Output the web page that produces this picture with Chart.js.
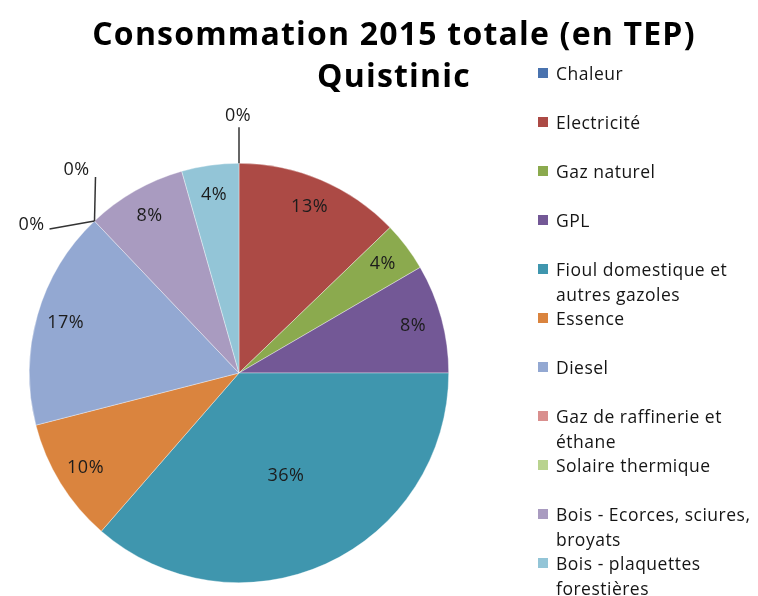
<!DOCTYPE html>
<html>
<head>
<meta charset="utf-8">
<script src="https://cdn.jsdelivr.net/npm/chart.js@4.4.1/dist/chart.umd.min.js"></script>
<style>
  body { margin: 0; background: #fff; }
  #wrap { position: relative; width: 758px; height: 596px; overflow: hidden; }
  #chart { position: absolute; left: 0; top: 0; }
  #title {
    position: absolute; left: 0; top: 12px; width: 788px;
    text-align: center; font-family: "Open Sans", sans-serif; font-weight: bold;
    font-size: 32px; line-height: 42px; color: #000; letter-spacing: 1.2px;
  }
  #legend { position: absolute; left: 538px; top: 61px; font-family: "Open Sans", sans-serif;
    font-size: 17.5px; color: #151515; letter-spacing: 0.5px; }
  .item { position: relative; height: 49px; line-height: 24.5px; padding-left: 18px; white-space: nowrap; }
  .box { position: absolute; left: 0; top: 7px; width: 10px; height: 10px; }
</style>
</head>
<body>
<div id="wrap">
  <canvas id="chart" width="758" height="596"></canvas>
  <div id="title">Consommation 2015 totale (en TEP)<br>Quistinic</div>
  <div id="legend"></div>
</div>
<script>
// energy types, each as the lines shown in the legend
const categories = [
    ['Chaleur'],
    ['Electricité'],
    ['Gaz naturel'],
    ['GPL'],
    ['Fioul domestique et', 'autres gazoles'],
    ['Essence'],
    ['Diesel'],
    ['Gaz de raffinerie et', 'éthane'],
    ['Solaire thermique'],
    ['Bois - Ecorces, sciures,', 'broyats'],
    ['Bois - plaquettes', 'forestières']
];
// share of 2015 consumption, in %
const shares = [0, 12.8, 3.8, 8.4, 36.4, 9.6, 16.9, 0, 0, 7.7, 4.4];
const colors = ['#4a73af', '#ac4a45', '#8baa4e', '#735896', '#3f96ae', '#da843e',
    '#93a8d2', '#d98f8e', '#b9d38f', '#a99bc0', '#93c5d7'];

// where the "0%" labels of empty slices go, relative to the slice edge
const leaderOffsets = {
    0: { line: [0, -36], text: [-1, -47] },
    7: { line: [-45, 8], text: [-63, 4] },
    8: { line: [1, -44], text: [-18, -51] }
};

let total = shares.reduce((a, b) => a + b, 0);

function pct(v) {
    return Math.round(v / total * 100) + '%';
}

const sliceLabels = {
    id: 'sliceLabels',
    afterDatasetsDraw(chart) {
        const ctx = chart.ctx;
        const meta = chart.getDatasetMeta(0);
        ctx.save();
        ctx.font = '18px "Open Sans", sans-serif';
        ctx.letterSpacing = '0.5px';
        ctx.fillStyle = '#1c1c1c';
        ctx.textAlign = 'center';
        ctx.textBaseline = 'middle';
        meta.data.forEach((arc, i) => {
            const v = shares[i];
            const { x, y, startAngle, endAngle, outerRadius } = arc.getProps(['x', 'y', 'startAngle', 'endAngle', 'outerRadius'], true);
            if (v > 0) {
                const mid = (startAngle + endAngle) / 2;
                const r = v / total > 0.25 ? outerRadius * 0.54 : outerRadius * 0.86;
                ctx.fillText(pct(v), x + Math.cos(mid) * r, y + Math.sin(mid) * r);
            } else if (leaderOffsets[i]) {
                const ex = x + Math.cos(startAngle) * outerRadius;
                const ey = y + Math.sin(startAngle) * outerRadius;
                const o = leaderOffsets[i];
                ctx.strokeStyle = '#333';
                ctx.lineWidth = 1.5;
                ctx.beginPath();
                ctx.moveTo(ex, ey);
                ctx.lineTo(ex + o.line[0], ey + o.line[1]);
                ctx.stroke();
                ctx.fillText(pct(v), ex + o.text[0], ey + o.text[1]);
            }
        });
        ctx.restore();
    }
};

new Chart(document.getElementById('chart'), {
    type: 'pie',
    data: {
        labels: categories.map(c => c.join(' ')),
        datasets: [{
            data: shares,
            backgroundColor: colors,
            borderColor: 'rgba(255,255,255,0.6)',
            borderWidth: 0.6
        }]
    },
    options: {
        responsive: false,
        animation: false,
        layout: { padding: { left: 29, right: 309, top: 163, bottom: 13 } },
        plugins: {
            legend: { display: false },
            tooltip: { enabled: false }
        }
    },
    plugins: [sliceLabels]
});

// legend built from the same arrays
let legend = document.getElementById('legend');
categories.forEach((lines, i) => {
    const div = document.createElement('div');
    div.className = 'item';
    const box = document.createElement('span');
    box.className = 'box';
    box.style.background = colors[i];
    div.appendChild(box);
    lines.forEach((line, j) => {
        if (j > 0) div.appendChild(document.createElement('br'));
        div.appendChild(document.createTextNode(line));
    });
    legend.appendChild(div);
});
</script>
</body>
</html>
